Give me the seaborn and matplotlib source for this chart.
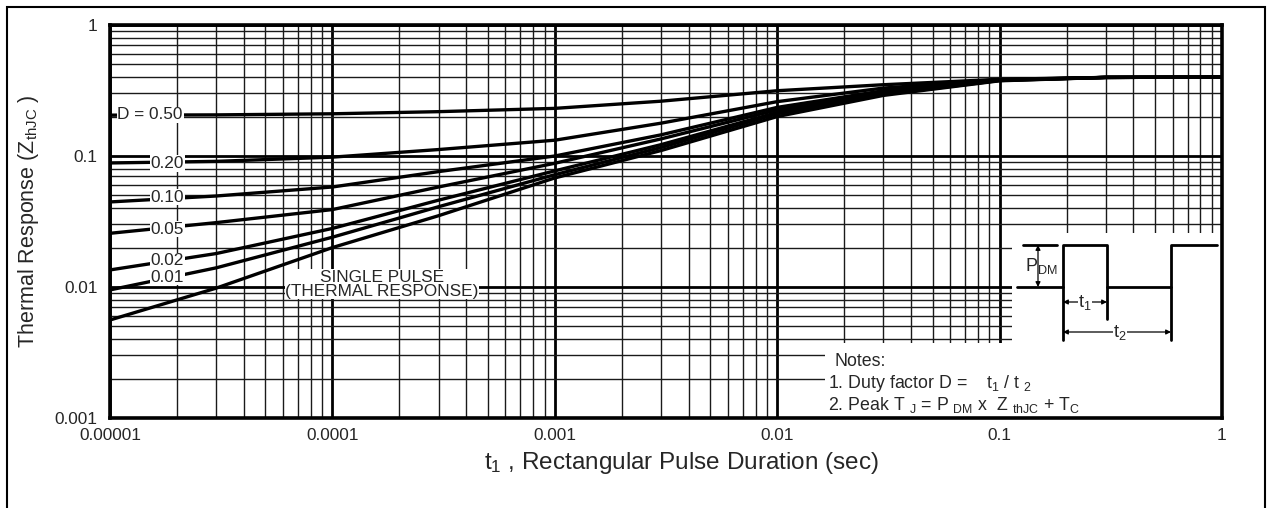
import numpy as np
import pandas as pd
import matplotlib
matplotlib.use("Agg")
import matplotlib.pyplot as plt
import matplotlib.transforms as mtransforms
import seaborn as sns
from matplotlib.patches import Rectangle
from matplotlib.ticker import FixedLocator, LogLocator, NullFormatter

# pulse duration t1 (sec) and thermal response Z_thJC per duty factor
t1 = [1e-5, 3e-5, 1e-4, 3e-4, 1e-3, 3e-3, 1e-2, 3e-2, 1e-1, 3e-1, 1]
z_050 = [0.205, 0.206, 0.210, 0.218, 0.231, 0.262, 0.315, 0.350, 0.385, 0.398, 0.400]
z_020 = [0.0885, 0.091, 0.098, 0.112, 0.132, 0.178, 0.260, 0.330, 0.383, 0.398, 0.400]
z_010 = [0.0446, 0.0495, 0.058, 0.076, 0.100, 0.145, 0.235, 0.315, 0.381, 0.398, 0.400]
z_005 = [0.0257, 0.031, 0.039, 0.058, 0.088, 0.135, 0.225, 0.305, 0.380, 0.398, 0.400]
z_002 = [0.0135, 0.018, 0.028, 0.046, 0.077, 0.122, 0.215, 0.300, 0.378, 0.398, 0.400]
z_001 = [0.0095, 0.014, 0.024, 0.041, 0.072, 0.116, 0.210, 0.295, 0.377, 0.398, 0.400]
z_single = [0.0056, 0.0098, 0.020, 0.035, 0.068, 0.110, 0.200, 0.290, 0.375, 0.398, 0.400]

duty = ["0.50", "0.20", "0.10", "0.05", "0.02", "0.01", "single"]
series = [z_050, z_020, z_010, z_005, z_002, z_001, z_single]

x_ticks = [1e-5, 1e-4, 1e-3, 1e-2, 1e-1, 1]
x_tick_labels = ["0.00001", "0.0001", "0.001", "0.01", "0.1", "1"]
y_ticks = [1e-3, 1e-2, 1e-1, 1]
y_tick_labels = ["0.001", "0.01", "0.1", "1"]

rows = []
for d, zs in zip(duty, series):
    for t, z in zip(t1, zs):
        rows.append({"t1": t, "Z": z, "D": d})
df = pd.DataFrame(rows)

sns.set_style("white")
plt.rcParams['font.family'] = ['Liberation Sans', 'DejaVu Sans']

W, H = 1271, 508
fig = plt.figure(figsize=(W / 100, H / 100), dpi=100)
ax = fig.add_axes([110 / W, 1 - 418 / H, 1112 / W, 393 / H])

sns.lineplot(data=df, x="t1", y="Z", hue="D", palette={d: "black" for d in duty},
             linewidth=2.4, legend=False, ax=ax, zorder=2)

ax.set_xscale("log")
ax.set_yscale("log")
ax.set_xlim(1e-5, 1)
ax.set_ylim(1e-3, 1)

ax.xaxis.set_major_locator(FixedLocator(x_ticks))
ax.set_xticklabels(x_tick_labels)
ax.yaxis.set_major_locator(FixedLocator(y_ticks))
ax.set_yticklabels(y_tick_labels)
for axis in (ax.xaxis, ax.yaxis):
    axis.set_minor_locator(LogLocator(base=10, subs=np.arange(2, 10)))
    axis.set_minor_formatter(NullFormatter())
ax.tick_params(which="major", length=3, width=1.2, labelsize=12.4, color="black")
ax.tick_params(axis="y", pad=6)
ax.tick_params(axis="x", pad=4)
ax.tick_params(which="minor", length=0)

ax.set_axisbelow(True)
ax.grid(which="major", color="black", linewidth=2.0)
ax.grid(which="minor", color="#1a1a1a", linewidth=1.0)
for s in ax.spines.values():
    s.set_linewidth(2.6)
    s.set_color("black")
    s.set_zorder(8)

ax.set_xlabel("t$\\mathregular{_1}$ , Rectangular Pulse Duration (sec)", fontsize=17.5, labelpad=5)
ax.xaxis.label.set_x((681 - 110) / 1112)
ax.set_ylabel("Thermal Response (Z$\\mathregular{_{thJC}}$ )", fontsize=15.5, labelpad=10)

# curve labels
fs = 12.4
lab_box = dict(facecolor="white", edgecolor="none", pad=0.6)
ax.text(1.08e-5, 0.206, "D = 0.50", ha="left", va="center", fontsize=fs, bbox=lab_box, zorder=3)
ax.text(2.15e-5, 0.088, "0.20", ha="right", va="center", fontsize=fs, bbox=lab_box, zorder=3)
ax.text(2.15e-5, 0.0486, "0.10", ha="right", va="center", fontsize=fs, bbox=lab_box, zorder=3)
ax.text(2.15e-5, 0.0277, "0.05", ha="right", va="center", fontsize=fs, bbox=lab_box, zorder=3)
ax.text(2.15e-5, 0.0158, "0.02", ha="right", va="center", fontsize=fs, bbox=lab_box, zorder=3)
ax.text(2.15e-5, 0.0119, "0.01", ha="right", va="center", fontsize=fs, bbox=lab_box, zorder=3)
ax.text(1.67e-4, 0.0105, "SINGLE PULSE\n(THERMAL RESPONSE)", ha="center", va="center",
        fontsize=fs, linespacing=0.9, bbox=dict(facecolor="white", edgecolor="none", pad=0.5), zorder=3)

# pixel frame (origin top-left of the figure) for the notes and the pulse sketch
px = mtransforms.Affine2D().scale(1 / W, -1 / H).translate(0, 1) + fig.transFigure

# notes box
nfs = 12.8
ax.add_patch(Rectangle((825, 343), 398, 76, transform=px, facecolor="white",
                       edgecolor="none", zorder=3))
ax.text(835, 362, "Notes:", transform=px, ha="left", va="center", fontsize=nfs, zorder=4)
ax.text(828, 383, "1. Duty factor D =    t$\\mathregular{_1}$ / t $\\mathregular{_2}$",
        transform=px, ha="left", va="center", fontsize=nfs, zorder=4)
ax.text(828, 405,
        "2. Peak T $\\mathregular{_J}$ = P $\\mathregular{_{DM}}$ x  Z $\\mathregular{_{thJC}}$ + T$\\mathregular{_C}$",
        transform=px, ha="left", va="center", fontsize=nfs, zorder=4)

# pulse waveform sketch
ax.add_patch(Rectangle((1012, 233), 211, 110, transform=px, facecolor="white",
                       edgecolor="none", zorder=3))
wave_x = [1017, 1063, 1063, 1107, 1107, 1171, 1171, 1217]
wave_y = [287, 287, 245, 245, 287, 287, 245, 245]
ax.plot(wave_x, wave_y, transform=px, color="black", lw=2.0, zorder=4)
ax.plot([1023, 1057], [245, 245], transform=px, color="black", lw=2.0, zorder=4)
ax.plot([1063, 1063], [287, 340], transform=px, color="black", lw=2.0, zorder=4)
ax.plot([1107, 1107], [287, 319], transform=px, color="black", lw=2.0, zorder=4)
ax.plot([1171, 1171], [287, 340], transform=px, color="black", lw=2.0, zorder=4)
arr = dict(arrowstyle="<|-|>", color="black", lw=0.9, mutation_scale=7, shrinkA=0, shrinkB=0)
for (xa, ya), (xb, yb) in [((1038, 245), (1038, 287)), ((1063, 302), (1107, 302)),
                           ((1063, 332), (1171, 332))]:
    ax.annotate("", xy=(xa, ya), xytext=(xb, yb), xycoords=px, textcoords=px,
                arrowprops=arr, zorder=4)
ax.text(1041, 266, "P$\\mathregular{_{DM}}$", transform=px, ha="center", va="center",
        fontsize=13, zorder=5)
ax.text(1085, 302, "t$\\mathregular{_1}$", transform=px, ha="center", va="center", fontsize=13,
        bbox=dict(facecolor="white", edgecolor="none", pad=0.3), zorder=5)
ax.text(1120, 332, "t$\\mathregular{_2}$", transform=px, ha="center", va="center", fontsize=13,
        bbox=dict(facecolor="white", edgecolor="none", pad=0.3), zorder=5)

# outer frame of the figure panel
fig.patches.append(Rectangle((7 / W, -0.05), (1265 - 7) / W, 1 - 7 / H + 0.05,
                             transform=fig.transFigure, fill=False, edgecolor="black", lw=1.5))

fig.savefig("out.png", dpi=100)
